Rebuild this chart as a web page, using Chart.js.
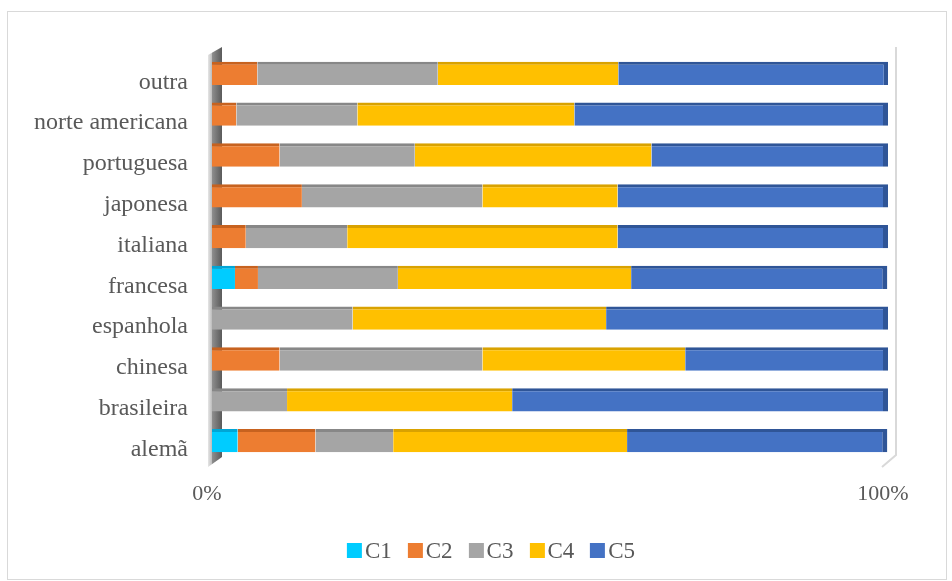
<!DOCTYPE html>
<html>
<head>
<meta charset="utf-8">
<script src="https://cdn.jsdelivr.net/npm/chart.js@4"></script>
<style>
  html, body { margin: 0; padding: 0; background: #ffffff; }
  #wrap { position: relative; width: 952px; height: 581px; }
  #legend {
    position: absolute; top: 539px; left: 491px; transform: translateX(-50%);
    display: flex; align-items: center; white-space: nowrap;
    font-family: 'Liberation Serif', 'Times New Roman', serif;
    font-size: 23px; line-height: 23px; color: #595959;
  }
  #legend .item { display: flex; align-items: center; margin: 0 8px; }
  #legend .box { width: 15px; height: 15px; margin-right: 3px; }
</style>
</head>
<body>
<div id="wrap">
  <canvas id="stackChart" width="952" height="581"></canvas>
  <div id="legend"></div>
</div>
<script>
// categorias (de cima para baixo)
const categories = ["outra", "norte americana", "portuguesa", "japonesa", "italiana",
  "francesa", "espanhola", "chinesa", "brasileira", "alemã"];

// percentagem de cada classe por cozinha
const c1 = [0, 0, 0, 0, 0, 3.4, 0, 0, 0, 3.8];
const c2 = [6.7, 3.6, 10, 13.3, 5, 3.4, 0, 10, 0, 11.5];
const c3 = [26.7, 17.9, 20, 26.7, 15, 20.7, 20.8, 30, 11.1, 11.5];
const c4 = [26.7, 32.1, 35, 20, 40, 34.5, 37.5, 30, 33.3, 34.6];
const c5 = [40, 46.4, 35, 40, 40, 37.9, 41.7, 30, 55.6, 38.5];

const tickValues = [0, 100];

const font = "'Liberation Serif', 'Times New Roman', serif";
const textColor = "#595959";

// barra com face superior mais escura (efeito 3D)
function serie(label, data, fill, edge, endCap) {
  return {
    label: label,
    data: data,
    backgroundColor: fill,
    borderColor: edge,
    borderWidth: { top: 3, right: endCap ? 5 : 0, bottom: 0, left: 0 },
    borderSkipped: false,
    barPercentage: 0.57,
    categoryPercentage: 1,
  };
}

// paredes laterais e moldura
const walls = {
  id: "walls",
  beforeDraw(chart) {
    const ctx = chart.ctx;
    ctx.save();
    ctx.strokeStyle = "#d9d9d9";
    ctx.lineWidth = 1;
    ctx.strokeRect(7.5, 11.5, 939, 568);
    ctx.restore();
  },
  beforeDatasetsDraw(chart) {
    const { ctx, chartArea } = chart;
    const L = chartArea.left, R = chartArea.right;
    const T = chartArea.top, B = chartArea.bottom;
    ctx.save();
    const g = ctx.createLinearGradient(L - 4, 0, L + 10, 0);
    g.addColorStop(0, "#e6e6e6");
    g.addColorStop(0.28, "#bdbdbd");
    g.addColorStop(0.32, "#8c8c8c");
    g.addColorStop(1, "#5a5a5a");
    ctx.fillStyle = g;
    ctx.beginPath();
    ctx.moveTo(L - 4, T + 2);
    ctx.lineTo(L + 10, T - 6);
    ctx.lineTo(L + 10, B - 4);
    ctx.lineTo(L - 4, B + 6);
    ctx.closePath();
    ctx.fill();

    ctx.strokeStyle = "#d9d9d9";
    ctx.lineWidth = 2;
    ctx.beginPath();
    ctx.moveTo(R + 8, T - 6);
    ctx.lineTo(R + 8, B - 6);
    ctx.lineTo(R - 6, B + 6);
    ctx.stroke();
    ctx.restore();
  },
};

const chartData = {
  labels: categories,
  datasets: [
    serie("C1", c1, "#00CCFF", "#00A6D6", false),
    serie("C2", c2, "#ED7D31", "#C7621F", false),
    serie("C3", c3, "#A5A5A5", "#878787", false),
    serie("C4", c4, "#FFC000", "#D9A200", false),
    serie("C5", c5, "#4472C4", "#2F5597", true),
  ],
};

const chartConfig = {
  type: "bar",
  data: chartData,
  plugins: [walls],
  options: {
    indexAxis: "y",
    responsive: false,
    animation: false,
    layout: { padding: { top: 53, left: 0, right: 64, bottom: 50 } },
    scales: {
      x: {
        stacked: true,
        min: 0,
        max: 100,
        afterBuildTicks: (axis) => {
          axis.ticks = tickValues.map((v) => ({ value: v }));
        },
        afterFit: (axis) => { axis.height = 70; },
        grid: { display: false },
        border: { display: false },
        ticks: {
          padding: 12,
          labelOffset: -5,
          color: textColor,
          font: { family: font, size: 22 },
          callback: (v) => v + "%",
        },
      },
      y: {
        stacked: true,
        afterFit: (axis) => { axis.width = 212; },
        grid: { display: false },
        border: { display: false },
        ticks: {
          padding: 16,
          labelOffset: 9,
          color: textColor,
          font: { family: font, size: 24 },
        },
      },
    },
    plugins: {
      legend: { display: false },
      tooltip: { enabled: false },
    },
  },
};

const stackChart = new Chart(document.getElementById("stackChart"), chartConfig);

// legenda em HTML a partir das séries
const legendEl = document.getElementById("legend");
stackChart.data.datasets.forEach((ds) => {
  const item = document.createElement("span");
  item.className = "item";
  const box = document.createElement("span");
  box.className = "box";
  box.style.background = ds.backgroundColor;
  item.appendChild(box);
  item.appendChild(document.createTextNode(ds.label));
  legendEl.appendChild(item);
});
</script>
</body>
</html>
